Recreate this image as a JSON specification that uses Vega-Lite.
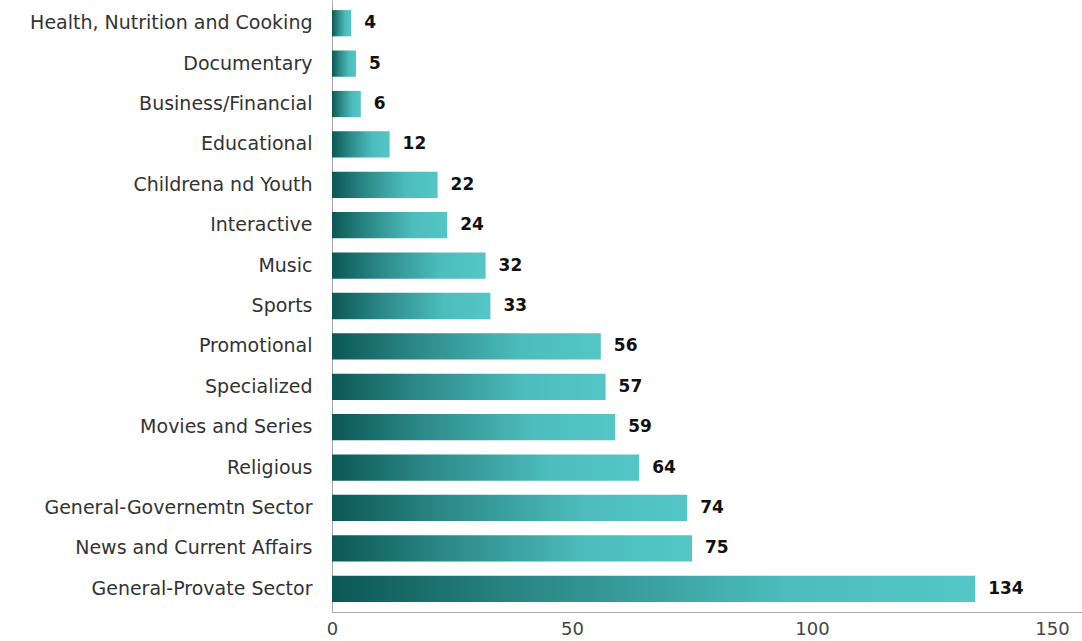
{
  "$schema": "https://vega.github.io/schema/vega-lite/v6.json",
  "width": 750,
  "height": 612,
  "autosize": {"type": "none"},
  "padding": {"left": 332, "top": 0, "right": 0, "bottom": 29},
  "background": "white",
  "config": {"view": {"stroke": null}, "font": "DejaVu Sans"},
  "data": {"values": [
    {"category": "Health, Nutrition and Cooking", "value": 4},
    {"category": "Documentary", "value": 5},
    {"category": "Business/Financial", "value": 6},
    {"category": "Educational", "value": 12},
    {"category": "Childrena nd Youth", "value": 22},
    {"category": "Interactive", "value": 24},
    {"category": "Music", "value": 32},
    {"category": "Sports", "value": 33},
    {"category": "Promotional", "value": 56},
    {"category": "Specialized", "value": 57},
    {"category": "Movies and Series", "value": 59},
    {"category": "Religious", "value": 64},
    {"category": "General-Governemtn Sector", "value": 74},
    {"category": "News and Current Affairs", "value": 75},
    {"category": "General-Provate Sector", "value": 134}
  ]},
  "encoding": {
    "y": {"field": "category", "type": "nominal", "sort": null,
      "scale": {"paddingInner": 0.35, "paddingOuter": 0.25},
      "axis": {"title": null, "ticks": false, "domain": true, "domainColor": "#aaaaaa", "labelFontSize": 19, "labelColor": "#333333", "labelPadding": 20, "labelLimit": 400, "labelFont": "DejaVu Sans"}},
    "x": {"field": "value", "type": "quantitative",
      "scale": {"domain": [0, 156.25], "nice": false, "zero": true},
      "axis": {"title": null, "values": [0, 50, 100, 150], "grid": false, "ticks": false, "domainColor": "#aaaaaa", "labelFontSize": 18, "labelColor": "#444444", "labelFont": "DejaVu Sans", "labelPadding": 8, "labelFlush": false}}
  },
  "layer": [
    {"mark": {"type": "bar", "color": {"gradient": "linear", "x1": 0, "y1": 0, "x2": 1, "y2": 0, "stops": [
      {"offset": 0, "color": "#0b5755"},
      {"offset": 0.3, "color": "#2a8785"},
      {"offset": 0.7, "color": "#4cbcbc"},
      {"offset": 1, "color": "#55c6c6"}]}}},
    {"mark": {"type": "text", "align": "left", "dx": 13, "fontSize": 17, "fontWeight": "bold", "font": "DejaVu Sans", "color": "#111111"},
      "encoding": {"text": {"field": "value", "type": "quantitative"}}}
  ]
}
